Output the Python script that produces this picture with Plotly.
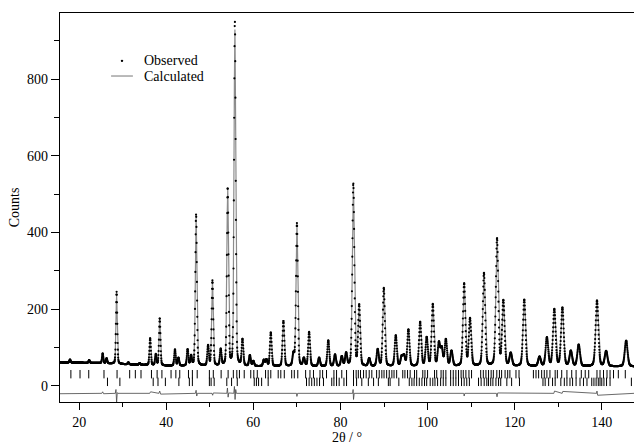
import numpy as np
import plotly.graph_objects as go

# ---- data ----
peak_pos = [17.9, 22.3, 25.4, 26.3, 28.6, 31.3, 33.9, 36.3, 37.6, 38.5, 42.0, 42.8, 44.9, 45.7,
            46.85, 49.6, 50.6, 52.5, 54.1, 55.75, 57.5, 59.2, 60.0, 62.4, 63.0, 64.0, 66.9, 69.2,
            70.0, 71.6, 72.8, 75.1, 77.2, 78.75, 80.3, 81.3, 82.95, 84.3, 86.6, 88.55, 89.95,
            92.7, 94.05, 94.6, 95.6, 98.3, 99.8, 101.2, 102.6, 103.25, 104.2, 105.5, 108.4,
            109.75, 112.95, 115.95, 117.4, 119.1, 122.2, 125.7, 127.4, 129.1, 130.96, 132.9,
            134.7, 138.9, 141.0, 145.6]
peak_calc = [8, 7, 25, 13, 178, 5, 4, 70, 28, 123, 42, 20, 42, 25,
             393, 52, 222, 42, 462, 878, 68, 28, 13, 16, 17, 88, 118, 30,
             373, 20, 89, 22, 67, 30, 25, 33, 476, 158, 20, 43, 204,
             80, 24, 26, 95, 115, 74, 161, 59, 45, 69, 39, 215,
             123, 243, 332, 169, 33, 174, 24, 74, 148, 152, 39,
             56, 172, 39, 67]
peak_obs = [8, 7, 25, 13, 188, 5, 4, 70, 28, 123, 42, 20, 42, 25,
            395, 52, 222, 42, 462, 898, 68, 28, 13, 16, 17, 88, 118, 30,
            373, 20, 89, 22, 67, 30, 25, 33, 476, 158, 20, 43, 204,
            80, 24, 26, 95, 115, 74, 161, 59, 45, 69, 39, 215,
            123, 243, 332, 169, 33, 174, 24, 74, 148, 152, 39,
            56, 172, 39, 67]
bg_x = [15, 25, 30, 40, 60, 100, 148]
bg_y = [61, 59, 56, 52, 50, 50, 50]

refl_phase1 = [18.1, 20.2, 22.2, 25.7, 28.7, 31.6, 32.9, 34.2, 36.6, 37.9, 39.0, 41.1, 42.2, 43.1,
               45.1, 46.0, 47.1, 49.9, 50.8, 52.6, 54.2, 55.4, 56.2, 56.8, 57.9, 59.4, 60.1, 60.9,
               62.8, 63.4, 64.0, 65.7, 66.3, 67.1, 68.8, 69.4, 70.2, 72.0, 73.0, 73.8, 75.3, 75.9,
               76.8, 78.5, 79.1, 80.3, 81.4, 83.0, 83.6, 84.1, 84.6, 85.3, 85.9, 86.6, 87.2, 88.3,
               88.9, 89.5, 90.0, 90.6, 91.2, 91.8, 92.3, 92.9, 94.3, 94.8, 95.4, 96.0, 97.0, 97.5,
               98.9, 99.4, 100.0, 101.6, 102.1, 103.1, 103.6, 104.2, 105.3, 105.9, 106.5, 107.1,
               107.7, 108.2, 108.8, 109.5, 110.1, 112.2, 112.8, 113.4, 114.0, 114.6, 115.1, 115.9,
               116.5, 117.0, 117.8, 118.4, 118.9, 120.3, 121.0, 124.3, 124.9, 125.5, 126.2, 126.8,
               127.4, 128.1, 129.3, 129.8, 130.8, 132.0, 133.1, 134.1, 135.3, 136.2, 137.0, 138.9,
               139.6, 140.4, 141.2, 141.9, 142.7, 143.8, 145.4]
refl_phase2 = [26.5, 29.35, 37.0, 38.1, 39.8, 42.9, 45.3, 46.0, 49.9, 50.3, 51.0, 53.9, 55.0, 56.3,
               60.2, 60.7, 61.2, 61.9, 63.4, 72.2, 72.8, 73.4, 74.0, 74.6, 75.2, 76.1, 78.0, 78.5,
               79.1, 79.7, 80.8, 81.4, 83.0, 83.7, 84.9, 86.4, 87.6, 88.7, 91.0, 91.4, 93.4, 95.8,
               96.4, 96.9, 97.5, 98.1, 98.7, 99.3, 99.8, 100.6, 101.2, 101.7, 102.3, 103.0, 103.6,
               104.2, 105.3, 105.9, 106.5, 107.1, 107.8, 108.4, 109.0, 109.6, 111.7, 112.3, 113.0,
               113.6, 114.0, 114.5, 115.0, 115.7, 116.3, 116.8, 118.2, 119.3, 121.1, 126.5, 127.0,
               127.8, 128.7, 129.3, 130.6, 131.4, 132.0, 132.7, 133.3, 134.1, 135.0, 135.8, 136.6,
               137.7, 138.2, 138.7, 139.2, 139.6, 140.0, 140.5, 141.1, 141.9, 146.8]

diff_x = [15.6, 20.0, 25.2, 25.4, 25.6, 28.3, 28.45, 28.6, 28.75, 28.9, 36.2, 36.4, 38.3, 38.5,
          38.7, 46.7, 46.85, 47.0, 47.15, 50.5, 50.65, 50.8, 53.9, 54.05, 54.2, 54.35, 55.5,
          55.65, 55.8, 55.95, 56.1, 69.9, 70.0, 70.15, 82.8, 82.9, 83.0, 83.15, 108.3, 108.4,
          108.55, 115.8, 115.95, 116.1, 129.0, 129.15, 130.9, 131.05, 138.8, 138.9, 139.05, 147.4]
diff_y = [-21, -20, -20, -16, -21, -20, -10, -44, -18, -20, -20, -16, -20, -14,
          -22, -20, -12, -27, -20, -20, -25, -19, -20, -6, -30, -19, -20,
          -2, -36, -10, -20, -20, -28, -20, -20, -10, -36, -20, -20, -27,
          -20, -20, -29, -19, -20, -14, -20, -15, -20, -14, -25, -20]

ref_row1_y = 30
ref_row2_y = 10
x_range = [15.6, 147.4]
y_range = [-42.6, 973]

# ---- profile table built from the read peak list ----
tth = np.arange(15.6, 147.4, 0.04)
bg = np.interp(tth, bg_x, bg_y)


def profile(heights):
    y = bg.copy()
    for p, h in zip(peak_pos, heights):
        fw = 0.25 + 0.0035 * p
        g = np.exp(-4 * np.log(2) * ((tth - p) / fw) ** 2)
        lz = 1.0 / (1.0 + 4 * ((tth - p) / fw) ** 2)
        y += h * (0.75 * g + 0.25 * lz)
    return y


y_calc = profile(peak_calc)
y_obs = profile(peak_obs)

serif = "Liberation Serif, Times New Roman, serif"
fig = go.Figure()
fig.add_trace(go.Scatter(x=tth, y=y_calc, mode="lines", name="Calculated",
                         line=dict(color="#8c8c8c", width=1.2), showlegend=False))
fig.add_trace(go.Scatter(x=tth, y=y_obs, mode="markers", name="Observed",
                         marker=dict(color="black", size=2.2), showlegend=False))
fig.add_trace(go.Scatter(x=refl_phase1, y=[ref_row1_y] * len(refl_phase1), mode="markers",
                         marker=dict(symbol="line-ns", size=6, line=dict(width=1, color="black")),
                         showlegend=False, hoverinfo="skip"))
fig.add_trace(go.Scatter(x=refl_phase2, y=[ref_row2_y] * len(refl_phase2), mode="markers",
                         marker=dict(symbol="line-ns", size=6, line=dict(width=1, color="black")),
                         showlegend=False, hoverinfo="skip"))
fig.add_trace(go.Scatter(x=diff_x, y=diff_y, mode="lines",
                         line=dict(color="#444444", width=0.8),
                         showlegend=False, hoverinfo="skip"))

# legend drawn as annotations + shapes (paper coordinates)
legend_labels = ["Observed", "Calculated"]
leg_y = [0.877, 0.838]
leg_text_x = 0.143
fig.add_shape(type="circle", xref="paper", yref="paper", xsizemode="pixel", ysizemode="pixel",
              xanchor=0.108, yanchor=leg_y[0], x0=-1.2, x1=1.2, y0=-1.2, y1=1.2,
              fillcolor="black", line=dict(width=0))
fig.add_shape(type="line", xref="paper", yref="paper", x0=0.089, x1=0.127,
              y0=leg_y[1], y1=leg_y[1], line=dict(color="#8c8c8c", width=1.2))
for lab, yy in zip(legend_labels, leg_y):
    fig.add_annotation(text=lab, xref="paper", yref="paper", x=leg_text_x, y=yy,
                       xanchor="left", yanchor="middle", showarrow=False,
                       font=dict(family=serif, size=14, color="black"))

fig.update_layout(
    width=634, height=445,
    margin=dict(l=60, r=0, t=13, b=43),
    paper_bgcolor="white", plot_bgcolor="white",
    font=dict(family=serif, size=14, color="black"),
    showlegend=False,
    xaxis=dict(range=x_range, showgrid=False, zeroline=False, showline=True,
               linecolor="black", linewidth=1.2, mirror=True,
               ticks="outside", ticklen=7, tickcolor="black", tickwidth=1,
               tickvals=[20, 40, 60, 80, 100, 120, 140],
               minor=dict(tickvals=[30, 50, 70, 90, 110, 130], ticks="outside", ticklen=4,
                          tickcolor="black"),
               title=dict(text="2θ / °", standoff=3, font=dict(size=14))),
    yaxis=dict(range=y_range, showgrid=False, zeroline=False, showline=True,
               linecolor="black", linewidth=1.2,
               ticks="outside", ticklen=8, tickcolor="black", tickwidth=1,
               tickvals=[0, 200, 400, 600, 800],
               minor=dict(tickvals=[100, 300, 500, 700, 900], ticks="outside", ticklen=5,
                          tickcolor="black"),
               title=dict(text="Counts", standoff=4, font=dict(size=14))),
)

fig.write_html("out.html", config={"displayModeBar": False},
               post_script="document.body.style.margin='0';document.body.style.padding='0';")
